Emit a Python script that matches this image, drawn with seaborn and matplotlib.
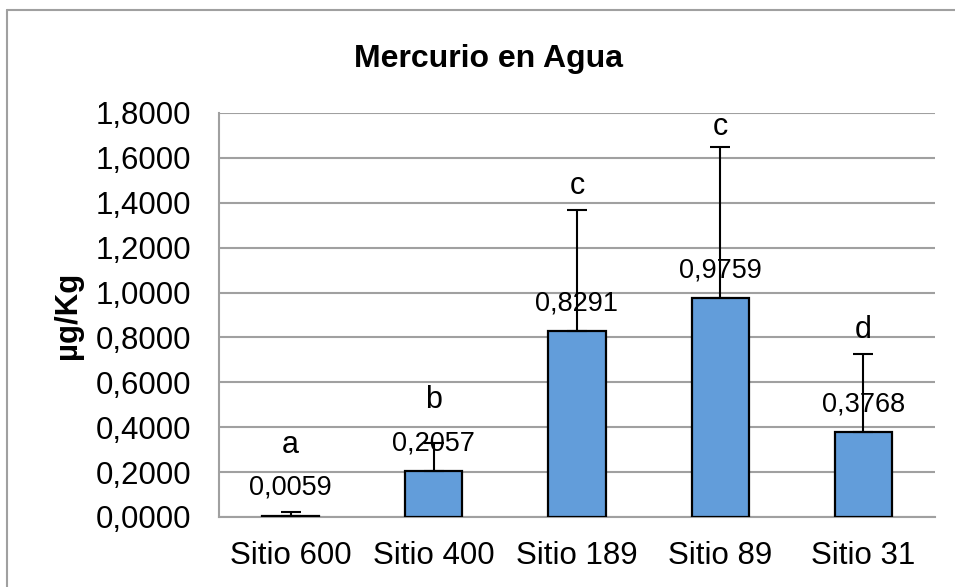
import matplotlib
matplotlib.use("Agg")
import matplotlib.pyplot as plt
from matplotlib.lines import Line2D
import seaborn as sns
import pandas as pd

categories = ["Sitio 600", "Sitio 400", "Sitio 189", "Sitio 89", "Sitio 31"]
values = [0.0059, 0.2057, 0.8291, 0.9759, 0.3768]
errors = [0.018, 0.125, 0.539, 0.672, 0.348]
value_labels = ["0,0059", "0,2057", "0,8291", "0,9759", "0,3768"]
letters = ["a", "b", "c", "c", "d"]
letter_y = [0.321, 0.521, 1.475, 1.738, 0.833]
yticks = [0.0, 0.2, 0.4, 0.6, 0.8, 1.0, 1.2, 1.4, 1.6, 1.8]

sns.set_style("white")
plt.rcParams["font.family"] = ["Liberation Sans", "DejaVu Sans"]
plt.rcParams["text.color"] = "black"
plt.rcParams["axes.labelcolor"] = "black"
plt.rcParams["xtick.color"] = "black"
plt.rcParams["ytick.color"] = "black"

df = pd.DataFrame({"sitio": categories, "valor": values})

fig = plt.figure(figsize=(9.55, 5.87), dpi=100)
ax = fig.add_axes([0.2293, 0.1193, 0.7497, 0.6882])

sns.barplot(data=df, x="sitio", y="valor", ax=ax, color="#629DDA",
            saturation=1, width=0.4, edgecolor="black", linewidth=1.6,
            errorbar=None, zorder=3)

xs = list(range(len(categories)))
ax.errorbar(xs, values, yerr=[[0] * len(values), errors], fmt="none",
            ecolor="black", elinewidth=1.5, capsize=7, capthick=1.5, zorder=4)

for x, v, lab in zip(xs, values, value_labels):
    ax.annotate(lab, (x, v), xytext=(0, 20), textcoords="offset points",
                ha="center", va="center", fontsize=19.5, zorder=5)

for x, ly, let in zip(xs, letter_y, letters):
    ax.text(x, ly, let, ha="center", va="center", fontsize=22, zorder=5)

ax.set_ylim(0, 1.8)
ax.set_xlim(-0.5, len(categories) - 0.5)
ax.set_yticks(yticks)
ax.set_yticklabels([f"{t:.4f}".replace(".", ",") for t in yticks], fontsize=22.5)
ax.tick_params(axis="x", labelsize=22.5, length=0, pad=17)
ax.tick_params(axis="y", length=0, pad=20)
ax.yaxis.grid(True, color="#A0A0A0", linewidth=1.5, zorder=0)
ax.set_axisbelow(True)
for s in ["top", "right"]:
    ax.spines[s].set_visible(False)
for s in ["left", "bottom"]:
    ax.spines[s].set_color("#A0A0A0")
    ax.spines[s].set_linewidth(1.5)

ax.set_xlabel("")
ax.set_ylabel("µg/Kg", fontsize=22.5, fontweight="bold")
ax.yaxis.set_label_coords(-0.19, 0.5)

fig.text(0.511, 1 - 59 / 587, "Mercurio en Agua", ha="center", va="center",
         fontsize=23, fontweight="bold")

# outer chart border
fig.add_artist(Line2D([7 / 955, 1.0], [1 - 10 / 587, 1 - 10 / 587],
                      transform=fig.transFigure, color="#A0A0A0", linewidth=1.5))
fig.add_artist(Line2D([7 / 955, 7 / 955], [1 - 10 / 587, 0.0],
                      transform=fig.transFigure, color="#A0A0A0", linewidth=1.5))

fig.savefig("out.png", dpi=100)
